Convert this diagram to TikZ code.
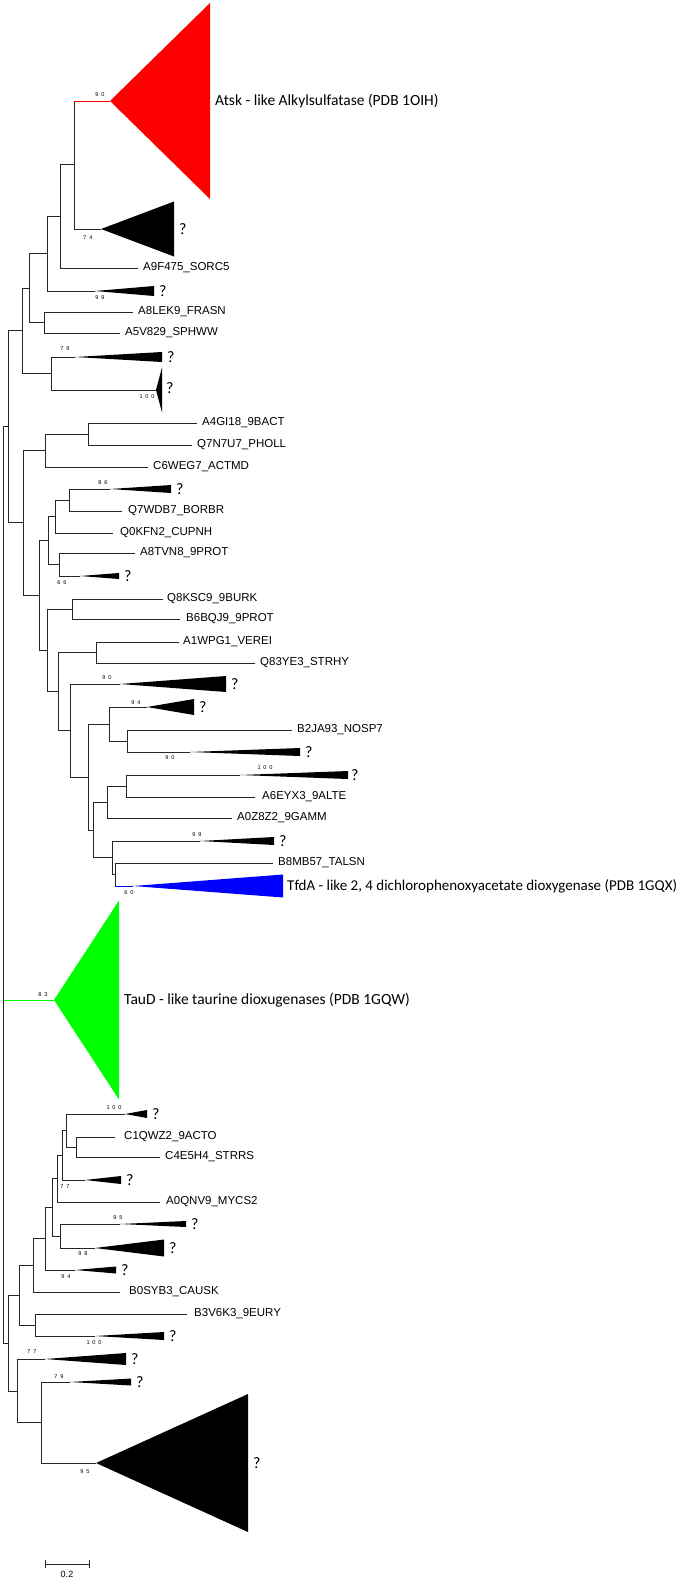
\documentclass[tikz,border=0pt]{standalone}
\usepackage{fontspec}
\usepackage{graphicx}
\setmainfont{Liberation Sans}
\newfontfamily\bigf{Carlito}
\newfontfamily\bsf[LetterSpace=50]{Liberation Sans}
\newcommand\ctri[4][black]{\fill[#1] (#2) -- ++(#3,#4) -- ++(0,-2*#4) -- cycle;}
\tikzset{
  br/.style={line width=0.8pt, draw=black!85},
  leaf/.style={anchor=west, inner sep=0pt, font=\fontsize{11.5}{12}\selectfont},
  qm/.style={anchor=west, inner sep=0pt, font=\bigf\fontsize{16}{16}\selectfont},
  bs/.style={inner sep=0pt, font=\bsf\fontsize{5.6}{6}\selectfont},
  biglab/.style={anchor=west, inner sep=0pt, font=\bigf\fontsize{15.5}{16}\selectfont}
}
\begin{document}
\begin{tikzpicture}[x=1pt,y=-1pt]
\fill[white] (0,0) rectangle (683,1579);
\useasboundingbox (0,0) rectangle (683,1579);
% ---------- coordinates: upper part
\coordinate (A) at (74,164.5);
\coordinate (redapex) at (110,101);
\coordinate (t74) at (101,229);
\coordinate (B) at (60,216);
\coordinate (lA9F) at (138,268);
\coordinate (C) at (47.5,253.5);
\coordinate (t99a) at (95,291);
\coordinate (D) at (44,322.5);
\coordinate (lA8L) at (133,312);
\coordinate (lA5V) at (120,333);
\coordinate (E) at (29,288);
\coordinate (F) at (51,373.5);
\coordinate (t79a) at (75,357);
\coordinate (t100a) at (156,390);
\coordinate (G) at (22,330.75);
\coordinate (I) at (8,426.75);
\coordinate (H) at (23,522.75);
\coordinate (n88) at (88,434);
\coordinate (lA4G) at (197,423);
\coordinate (lQ7N) at (192,445);
\coordinate (n45) at (45,450.5);
\coordinate (lC6W) at (148,467);
\coordinate (J1) at (69,500);
\coordinate (t86) at (110,489);
\coordinate (lQ7W) at (122,511);
\coordinate (J) at (55,516.5);
\coordinate (lQ0K) at (113,533);
\coordinate (K1) at (59,564.5);
\coordinate (lA8T) at (135,553);
\coordinate (t66) at (80,576);
\coordinate (K) at (48,540.5);
\coordinate (M1) at (72,609);
\coordinate (lQ8K) at (163,599);
\coordinate (lB6B) at (180,619);
\coordinate (N1) at (96,652.5);
\coordinate (lA1W) at (179,642);
\coordinate (lQ83) at (255,663);
\coordinate (R) at (127,741);
\coordinate (lB2J) at (292,730);
\coordinate (t90b) at (190,752);
\coordinate (Q) at (109,724);
\coordinate (t94a) at (147,707);
\coordinate (T) at (126,786);
\coordinate (t100b) at (240,775);
\coordinate (lA6E) at (255,797);
\coordinate (U) at (107,802);
\coordinate (lA0Z) at (232,818);
\coordinate (W) at (115,874.5);
\coordinate (lB8M) at (273,863);
\coordinate (blueapex) at (133,886);
\coordinate (V) at (112,857.75);
\coordinate (t99b) at (200,841);
\coordinate (S) at (93,830);
\coordinate (P) at (88,777);
\coordinate (O) at (70,730.5);
\coordinate (t90a) at (120,684);
\coordinate (N) at (58,691.5);
\coordinate (M) at (47,650);
\coordinate (L) at (39,595);
% ---------- root and green
\coordinate (root) at (3.5,885);
\coordinate (greenapex) at (54,1000);
% ---------- lower part
\coordinate (b76) at (76,1147);
\coordinate (lC1Q) at (115,1137);
\coordinate (lC4E) at (160,1157);
\coordinate (b66) at (66,1130.5);
\coordinate (t100c) at (125,1114);
\coordinate (b62) at (62,1155);
\coordinate (t77a) at (85,1180);
\coordinate (b57) at (57,1178.5);
\coordinate (lA0Q) at (160,1202);
\coordinate (b60) at (60,1236);
\coordinate (t95a) at (120,1224);
\coordinate (t98) at (95,1248);
\coordinate (b52) at (52,1207);
\coordinate (b45) at (45,1238.5);
\coordinate (t94b) at (75,1270);
\coordinate (b33) at (33,1265);
\coordinate (lB0S) at (120,1292);
\coordinate (b35) at (35,1325);
\coordinate (lB3V) at (187,1314);
\coordinate (t100d) at (95,1336);
\coordinate (b19) at (19,1295);
\coordinate (b41) at (41,1422.5);
\coordinate (t79b) at (70,1382);
\coordinate (big95) at (96,1463);
\coordinate (b17) at (17,1391);
\coordinate (t77b) at (45,1359);
\coordinate (b8) at (8,1343);
% ---------- branches
\draw[br] (A) |- (redapex);
\draw[line width=0.8pt, red] (redapex) -- (redapex -| A);
\draw[br] (A) |- (t74);
\draw[br] (B) |- (A);
\draw[br] (B) |- (lA9F);
\draw[br] (C) |- (B);
\draw[br] (C) |- (t99a);
\draw[br] (D) |- (lA8L);
\draw[br] (D) |- (lA5V);
\draw[br] (E) |- (C);
\draw[br] (E) |- (D);
\draw[br] (F) |- (t79a);
\draw[br] (F) |- (t100a);
\draw[br] (G) |- (E);
\draw[br] (G) |- (F);
\draw[br] (I) |- (G);
\draw[br] (I) |- (H);
\draw[br] (n88) |- (lA4G);
\draw[br] (n88) |- (lQ7N);
\draw[br] (n45) |- (n88);
\draw[br] (n45) |- (lC6W);
\draw[br] (H) |- (n45);
\draw[br] (H) |- (L);
\draw[br] (J1) |- (t86);
\draw[br] (J1) |- (lQ7W);
\draw[br] (J) |- (J1);
\draw[br] (J) |- (lQ0K);
\draw[br] (K1) |- (lA8T);
\draw[br] (K1) |- (t66);
\draw[br] (K) |- (J);
\draw[br] (K) |- (K1);
\draw[br] (L) |- (K);
\draw[br] (L) |- (M);
\draw[br] (M1) |- (lQ8K);
\draw[br] (M1) |- (lB6B);
\draw[br] (M) |- (M1);
\draw[br] (M) |- (N);
\draw[br] (N1) |- (lA1W);
\draw[br] (N1) |- (lQ83);
\draw[br] (N) |- (N1);
\draw[br] (N) |- (O);
\draw[br] (O) |- (t90a);
\draw[br] (O) |- (P);
\draw[br] (P) |- (Q);
\draw[br] (P) |- (S);
\draw[br] (Q) |- (t94a);
\draw[br] (Q) |- (R);
\draw[br] (R) |- (lB2J);
\draw[br] (R) |- (t90b);
\draw[br] (S) |- (U);
\draw[br] (S) |- (V);
\draw[br] (U) |- (T);
\draw[br] (U) |- (lA0Z);
\draw[br] (T) |- (t100b);
\draw[br] (T) |- (lA6E);
\draw[br] (V) |- (t99b);
\draw[br] (V) |- (W);
\draw[br] (W) |- (lB8M);
\draw[br] (W) |- (blueapex);
\draw[line width=0.8pt, blue] (blueapex) -- (blueapex -| W);
\draw[br] (root) |- (I);
\draw[br] (root) |- (b8);
\draw[line width=0.8pt, green] (greenapex) -- (greenapex -| root);
\draw[br] (b76) |- (lC1Q);
\draw[br] (b76) |- (lC4E);
\draw[br] (b66) |- (t100c);
\draw[br] (b66) |- (b76);
\draw[br] (b62) |- (b66);
\draw[br] (b62) |- (t77a);
\draw[br] (b57) |- (b62);
\draw[br] (b57) |- (lA0Q);
\draw[br] (b60) |- (t95a);
\draw[br] (b60) |- (t98);
\draw[br] (b52) |- (b57);
\draw[br] (b52) |- (b60);
\draw[br] (b45) |- (b52);
\draw[br] (b45) |- (t94b);
\draw[br] (b33) |- (b45);
\draw[br] (b33) |- (lB0S);
\draw[br] (b35) |- (lB3V);
\draw[br] (b35) |- (t100d);
\draw[br] (b19) |- (b33);
\draw[br] (b19) |- (b35);
\draw[br] (b41) |- (t79b);
\draw[br] (b41) |- (big95);
\draw[br] (b17) |- (t77b);
\draw[br] (b17) |- (b41);
\draw[br] (b8) |- (b19);
\draw[br] (b8) |- (b17);
% ---------- collapsed clades
\ctri[red]{redapex}{100}{98}
\ctri{t74}{73}{27.5}
\ctri{t99a}{59}{5}
\ctri{t79a}{87}{5}
\ctri{t100a}{6}{22.5}
\ctri{t86}{61}{4}
\ctri{t66}{39}{3}
\ctri{t90a}{106}{8}
\ctri{t94a}{47}{8}
\ctri{t90b}{110}{4}
\ctri{t100b}{108}{4}
\ctri{t99b}{74}{4}
\ctri[blue]{blueapex}{150}{11.5}
\ctri[green]{greenapex}{65}{99.5}
\ctri{t100c}{22}{4}
\ctri{t77a}{36}{4}
\ctri{t95a}{66}{3}
\ctri{t98}{69}{8.5}
\ctri{t94b}{41}{3.5}
\ctri{t100d}{69}{4}
\ctri{t77b}{81}{6}
\ctri{t79b}{61}{3.5}
\ctri{big95}{152}{69}
% ---------- leaf labels
\node[leaf] (nA9F) at (143,268) {A9F475\_SORC5};
\node[leaf] (nA8L) at (138,312) {A8LEK9\_FRASN};
\node[leaf] (nA5V) at (125,333) {A5V829\_SPHWW};
\node[leaf] (nA4G) at (202,423) {A4GI18\_9BACT};
\node[leaf] (nQ7N) at (197,445) {Q7N7U7\_PHOLL};
\node[leaf] (nC6W) at (153,467) {C6WEG7\_ACTMD};
\node[leaf] (nQ7W) at (128,511) {Q7WDB7\_BORBR};
\node[leaf] (nQ0K) at (120,533) {Q0KFN2\_CUPNH};
\node[leaf] (nA8T) at (140,553) {A8TVN8\_9PROT};
\node[leaf] (nQ8K) at (167,599) {Q8KSC9\_9BURK};
\node[leaf] (nB6B) at (186,619) {B6BQJ9\_9PROT};
\node[leaf] (nA1W) at (183,642) {A1WPG1\_VEREI};
\node[leaf] (nQ83) at (260,663) {Q83YE3\_STRHY};
\node[leaf] (nB2J) at (297,730) {B2JA93\_NOSP7};
\node[leaf] (nA6E) at (262,797) {A6EYX3\_9ALTE};
\node[leaf] (nA0Z) at (237,818) {A0Z8Z2\_9GAMM};
\node[leaf] (nB8M) at (278,863) {B8MB57\_TALSN};
\node[leaf] (nC1Q) at (124,1137) {C1QWZ2\_9ACTO};
\node[leaf] (nC4E) at (165,1157) {C4E5H4\_STRRS};
\node[leaf] (nA0Q) at (166,1202) {A0QNV9\_MYCS2};
\node[leaf] (nB0S) at (129,1292) {B0SYB3\_CAUSK};
\node[leaf] (nB3V) at (194,1314) {B3V6K3\_9EURY};
% ---------- group labels
\node[biglab] (labAtsk) at (215,101) {Atsk - like Alkylsulfatase (PDB 1OIH)};
\node[biglab] (labTfdA) at (287,886) {\resizebox{390pt}{!}{TfdA - like 2, 4 dichlorophenoxyacetate dioxygenase (PDB 1GQX)}};
\node[biglab] (labTauD) at (124,1000) {TauD - like taurine dioxugenases (PDB 1GQW)};
% ---------- question marks
\node[qm] (q1) at (179,229) {?};
\node[qm] (q2) at (159,291) {?};
\node[qm] (q3) at (167,357) {?};
\node[qm] (q4) at (166,388) {?};
\node[qm] (q5) at (176,489) {?};
\node[qm] (q6) at (124,576) {?};
\node[qm] (q7) at (231,684) {?};
\node[qm] (q8) at (199,707) {?};
\node[qm] (q9) at (305,752) {?};
\node[qm] (q10) at (351,775) {?};
\node[qm] (q11) at (279,841) {?};
\node[qm] (q12) at (152,1114) {?};
\node[qm] (q13) at (126,1180) {?};
\node[qm] (q14) at (191,1224) {?};
\node[qm] (q15) at (169,1248) {?};
\node[qm] (q16) at (121,1270) {?};
\node[qm] (q17) at (169,1336) {?};
\node[qm] (q18) at (131,1359) {?};
\node[qm] (q19) at (136,1382) {?};
\node[qm] (q20) at (253,1463) {?};
% ---------- bootstrap values
\node[bs] (bs1) at (100,95) {90};
\node[bs] (bs2) at (88,238) {74};
\node[bs] (bs3) at (100,298) {99};
\node[bs] (bs4) at (65,349) {79};
\node[bs] (bs5) at (147,397) {100};
\node[bs] (bs6) at (103,483) {86};
\node[bs] (bs7) at (62,583) {66};
\node[bs] (bs8) at (107,678) {90};
\node[bs] (bs9) at (136,703) {94};
\node[bs] (bs10) at (170,758) {90};
\node[bs] (bs11) at (265,768) {100};
\node[bs] (bs12) at (197,835) {99};
\node[bs] (bs13) at (129,893) {60};
\node[bs] (bs14) at (43,995) {83};
\node[bs] (bs15) at (114,1108) {100};
\node[bs] (bs16) at (65,1187) {77};
\node[bs] (bs17) at (118,1218) {95};
\node[bs] (bs18) at (83,1254) {98};
\node[bs] (bs19) at (66,1277) {94};
\node[bs] (bs20) at (94,1343) {100};
\node[bs] (bs21) at (32,1352) {77};
\node[bs] (bs22) at (59,1377) {79};
\node[bs] (bs23) at (85,1472) {95};
% ---------- scale bar
\coordinate (sbL) at (45,1564);
\coordinate (sbR) at (89,1564);
\draw[br] (sbL) -- (sbR);
\draw[br] (sbL) ++(0,-4) -- ++(0,8);
\draw[br] (sbR) ++(0,-4) -- ++(0,8);
\node[inner sep=0pt, font=\fontsize{9}{10}\selectfont] (sbtext) at (67,1574) {0.2};
\end{tikzpicture}
\end{document}
